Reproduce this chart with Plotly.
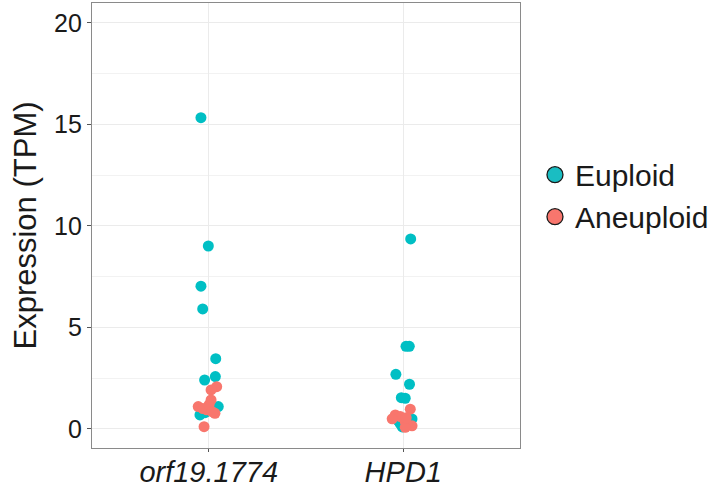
import plotly.graph_objects as go

categories = ["orf19.1774", "HPD1"]

# Euploid samples
eu_gene = [0] * 11 + [1] * 11
eu_jitter = [-0.040, -0.002, -0.040, -0.031, 0.036, -0.021, 0.034, 0.049, -0.045, 0.007, -0.019,
             0.038, 0.014, 0.031, -0.038, 0.032, -0.010, 0.010, 0.045, -0.015, -0.005, -0.026]
eu_tpm = [15.33, 9.01, 7.03, 5.91, 3.46, 2.41, 2.58, 1.10, 0.69, 1.00, 0.80,
          9.36, 4.07, 4.07, 2.69, 2.20, 1.54, 1.51, 0.49, 0.25, 0.10, 0.40]

# Aneuploid samples
an_gene = [0] * 10 + [1] * 8
an_jitter = [0.041, 0.012, 0.012, -0.054, -0.010, 0.032, -0.024, -0.030, 0.002, 0.017,
             0.036, -0.041, -0.015, 0.010, 0.045, 0.010, -0.057, 0.015]
an_tpm = [2.08, 1.92, 1.43, 1.10, 0.94, 0.77, 0.11, 1.00, 1.20, 0.85,
          0.97, 0.69, 0.61, 0.36, 0.15, 0.08, 0.50, 0.55]

y_ticks = [0, 5, 10, 15, 20]

EU = "#00BFC4"
AN = "#F8766D"

fig = go.Figure()
fig.add_trace(go.Scatter(
    x=[g + 1 + j for g, j in zip(eu_gene, eu_jitter)], y=eu_tpm, mode="markers",
    marker=dict(color=EU, size=11, line=dict(width=0)), showlegend=False, hoverinfo="y"))
fig.add_trace(go.Scatter(
    x=[g + 1 + j for g, j in zip(an_gene, an_jitter)], y=an_tpm, mode="markers",
    marker=dict(color=AN, size=11, line=dict(width=0)), showlegend=False, hoverinfo="y"))
# legend entries
fig.add_trace(go.Scatter(x=[None], y=[None], mode="markers", name="Euploid",
    marker=dict(color="#1ABDC2", size=18, line=dict(color="#1a1a1a", width=1.3))))
fig.add_trace(go.Scatter(x=[None], y=[None], mode="markers", name="Aneuploid",
    marker=dict(color=AN, size=18, line=dict(color="#1a1a1a", width=1.3))))

font = "Liberation Sans, Arial, sans-serif"
fig.update_layout(
    width=726, height=489,
    margin=dict(l=92, r=206, t=3, b=41),
    paper_bgcolor="white", plot_bgcolor="white",
    font=dict(family=font, color="#1a1a1a"),
    legend=dict(x=1.035, xanchor="left", y=0.567, yanchor="middle",
                font=dict(size=30, color="#1a1a1a"), itemsizing="trace",
                tracegroupgap=0, bgcolor="rgba(0,0,0,0)"),
    xaxis=dict(range=[0.4, 2.6], tickvals=[1, 2], ticktext=["<i>%s</i>" % c for c in categories],
               tickfont=dict(size=29, color="#1a1a1a"), showgrid=True, gridcolor="#EBEBEB",
               gridwidth=1, zeroline=False, showline=True, mirror=True, linecolor="#8a8a8a",
               linewidth=1.2, ticks="outside", ticklen=3, tickcolor="#555", automargin=False,
               ticklabelstandoff=-5),
    yaxis=dict(range=[-0.94, 20.98], tickvals=y_ticks, tickfont=dict(size=25, color="#1a1a1a"),
               showgrid=True, gridcolor="#EBEBEB", gridwidth=1, zeroline=False,
               minor=dict(dtick=2.5, tick0=2.5, showgrid=True, gridcolor="#F2F2F2", gridwidth=1),
               showline=True, mirror=True, linecolor="#8a8a8a", linewidth=1.2,
               ticks="outside", ticklen=4, tickcolor="#555", automargin=False,
               title=dict(text="Expression (TPM)", font=dict(size=31, color="#1a1a1a"), standoff=8)),
)
fig.write_html("out.html", config={"displayModeBar": False},
               post_script="document.body.style.margin='0';")
